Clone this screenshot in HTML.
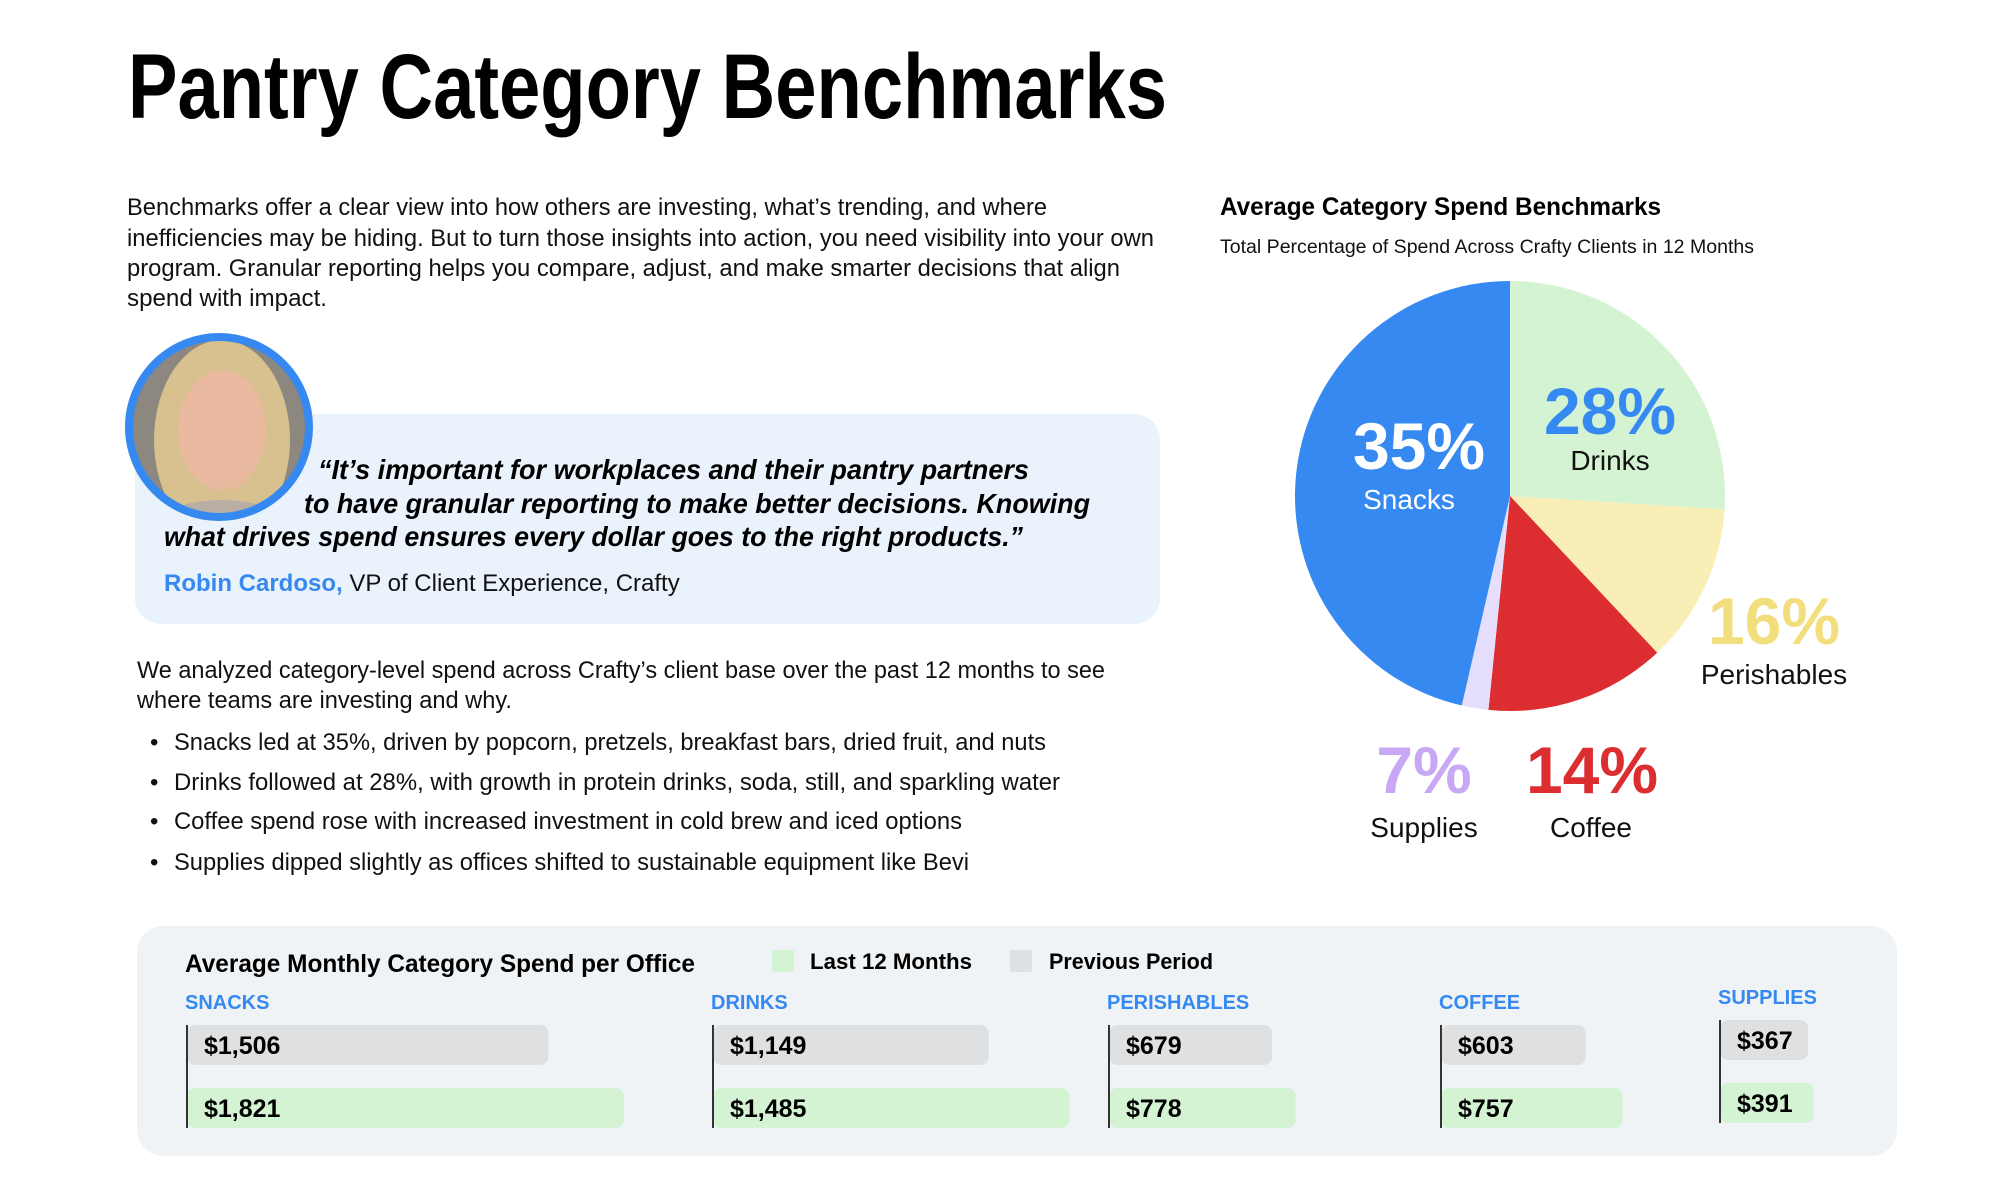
<!DOCTYPE html>
<html><head><meta charset="utf-8"><style>
html,body{margin:0;padding:0;background:#fff;}
svg{display:block;font-family:"Liberation Sans",sans-serif;}
</style></head><body>
<svg id="page" width="2000" height="1200" viewBox="0 0 2000 1200">
<text x="128" y="118" font-size="92" font-weight="700" fill="#000" textLength="1039" lengthAdjust="spacingAndGlyphs">Pantry Category Benchmarks</text>
<g font-size="24" fill="#111">
<text x="127" y="215" textLength="920" lengthAdjust="spacingAndGlyphs">Benchmarks offer a clear view into how others are investing, what’s trending, and where</text>
<text x="127" y="246" textLength="1027" lengthAdjust="spacingAndGlyphs">inefficiencies may be hiding. But to turn those insights into action, you need visibility into your own</text>
<text x="127" y="276" textLength="993" lengthAdjust="spacingAndGlyphs">program. Granular reporting helps you compare, adjust, and make smarter decisions that align</text>
<text x="127" y="306" textLength="200" lengthAdjust="spacingAndGlyphs">spend with impact.</text>
</g>
<rect x="135" y="414" width="1025" height="210" rx="26" fill="#EAF2FB"/>
<g>
<clipPath id="av"><circle cx="219" cy="427" r="88"/></clipPath>
<circle cx="219" cy="427" r="88" fill="#9a948c"/>
<g clip-path="url(#av)">
<rect x="130" y="340" width="180" height="180" fill="#8c877f"/>
<ellipse cx="222" cy="440" rx="68" ry="100" fill="#d9c08f"/>
<ellipse cx="222" cy="430" rx="44" ry="60" fill="#e9b9a0"/>
<ellipse cx="222" cy="530" rx="70" ry="30" fill="#b8aea4"/>
</g>
<circle cx="219" cy="427" r="90" fill="none" stroke="#3589F0" stroke-width="8"/>
</g>
<g font-size="28" font-weight="700" font-style="italic" fill="#000">
<text x="318" y="479" textLength="711" lengthAdjust="spacingAndGlyphs">“It’s important for workplaces and their pantry partners</text>
<text x="304" y="513" textLength="786" lengthAdjust="spacingAndGlyphs">to have granular reporting to make better decisions. Knowing</text>
<text x="164" y="546" textLength="859" lengthAdjust="spacingAndGlyphs">what drives spend ensures every dollar goes to the right products.”</text>
</g>
<text x="164" y="591" font-size="24" fill="#111"><tspan font-weight="700" fill="#3589F0">Robin Cardoso,</tspan> VP of Client Experience, Crafty</text>
<g font-size="24" fill="#111">
<text x="137" y="678" textLength="968" lengthAdjust="spacingAndGlyphs">We analyzed category-level spend across Crafty’s client base over the past 12 months to see</text>
<text x="137" y="708" textLength="375" lengthAdjust="spacingAndGlyphs">where teams are investing and why.</text>
</g>
<g font-size="24" fill="#111">
<text x="150" y="750">•</text><text x="174" y="750" textLength="872" lengthAdjust="spacingAndGlyphs">Snacks led at 35%, driven by popcorn, pretzels, breakfast bars, dried fruit, and nuts</text>
<text x="150" y="790">•</text><text x="174" y="790" textLength="886" lengthAdjust="spacingAndGlyphs">Drinks followed at 28%, with growth in protein drinks, soda, still, and sparkling water</text>
<text x="150" y="829">•</text><text x="174" y="829" textLength="788" lengthAdjust="spacingAndGlyphs">Coffee spend rose with increased investment in cold brew and iced options</text>
<text x="150" y="870">•</text><text x="174" y="870" textLength="795" lengthAdjust="spacingAndGlyphs">Supplies dipped slightly as offices shifted to sustainable equipment like Bevi</text>
</g>
<text x="1220" y="215" font-size="25" font-weight="700" fill="#000" textLength="441" lengthAdjust="spacingAndGlyphs">Average Category Spend Benchmarks</text>
<text x="1220" y="253" font-size="19" fill="#111" textLength="534" lengthAdjust="spacingAndGlyphs">Total Percentage of Spend Across Crafty Clients in 12 Months</text>
<g id="pie"></g>
<g id="pielabels"></g>
<rect x="137" y="926" width="1760" height="230" rx="26" fill="#F0F3F6"/>
<text x="185" y="972" font-size="25" font-weight="700" fill="#000" textLength="510" lengthAdjust="spacingAndGlyphs">Average Monthly Category Spend per Office</text>
<rect x="772" y="950" width="22" height="22" rx="2" fill="#D4F3D2"/>
<text x="810" y="969" font-size="22" font-weight="700" fill="#000" textLength="162" lengthAdjust="spacingAndGlyphs">Last 12 Months</text>
<rect x="1010" y="950" width="22" height="22" rx="2" fill="#DFE0E2"/>
<text x="1049" y="969" font-size="22" font-weight="700" fill="#000" textLength="164" lengthAdjust="spacingAndGlyphs">Previous Period</text>
<g id="bars"></g>
</svg>
<script>
// Pie data (clockwise from 12 o'clock), shares as drawn
const pieCategories = ["Drinks","Perishables","Coffee","Supplies","Snacks"];
const pieShares = [26, 12, 13.6, 2, 46.4];
const piePrinted = ["28%","16%","14%","7%","35%"];
// Bar data
const barCategories = ["SNACKS","DRINKS","PERISHABLES","COFFEE","SUPPLIES"];
const prevValues = [1506, 1149, 679, 603, 367];
const lastValues = [1821, 1485, 778, 757, 391];
const prevLabels = ["$1,506","$1,149","$679","$603","$367"];
const lastLabels = ["$1,821","$1,485","$778","$757","$391"];

const NS = "http://www.w3.org/2000/svg";
function mk(tag, attrs, parent){const e=document.createElementNS(NS,tag);for(const k in attrs)e.setAttribute(k,attrs[k]);parent.appendChild(e);return e;}

// Pie
const cx=1510, cy=496, R=215;
const pieColors=["#D4F3D2","#F8EEB6","#DC2E31","#E6DEFD","#3589F0"];
const total=pieShares.reduce((a,b)=>a+b,0);
function ang(v){return v/total*2*Math.PI;}
const pie=document.getElementById('pie');
let acc=0;
pieShares.forEach((v,i)=>{
  const a0=ang(acc), a1=ang(acc+v); acc+=v;
  const x0=cx+R*Math.sin(a0), y0=cy-R*Math.cos(a0), x1=cx+R*Math.sin(a1), y1=cy-R*Math.cos(a1);
  const large=(a1-a0)>Math.PI?1:0;
  const p=mk('path',{d:`M${cx},${cy} L${x0},${y0} A${R},${R} 0 ${large} 1 ${x1},${y1} Z`,fill:pieColors[i]},pie);
  
  
});
const labelPos=[[1610,410,1610,460],[1774,620,1774,674],[1592,769,1591,827],[1424,769,1424,827],[1419,445,1409,499]];
const pctColors=["#3589F0","#F3DE7E","#DC2E31","#C8A8F5","#FFFFFF"];
const nameColors=["#111","#111","#111","#111","#FFFFFF"];
const pl=document.getElementById('pielabels');
pieCategories.forEach((c,i)=>{
  const p=labelPos[i];
  const t=mk('text',{x:p[0],y:p[1]+24,'text-anchor':'middle','font-size':66,'font-weight':700,fill:pctColors[i]},pl);
  t.textContent=piePrinted[i];
  
  
  const n=mk('text',{x:p[2],y:p[3]+10,'text-anchor':'middle','font-size':28,fill:nameColors[i]},pl);
  n.textContent=c;
  
  
});

// Bars
const groupX=[187,713,1109,1441,1720];
const groupDy=[0,0,0,0,-5];
function xw(v){return v*0.24;}
const bars=document.getElementById('bars');
barCategories.forEach((c,i)=>{
  const gx=groupX[i], dy=groupDy[i];
  const g=mk('g',{},bars);
  
  
  const lab=mk('text',{x:gx-2,y:1009+dy,'font-size':20,'font-weight':700,fill:'#3589F0'},g);
  lab.textContent=c;
  
  
  const b1=mk('rect',{x:gx,y:1025+dy,width:xw(prevValues[i]),height:40,rx:8,fill:'#DFE0E2'},g);
  
  
  const b2=mk('rect',{x:gx,y:1088+dy,width:xw(lastValues[i]),height:40,rx:8,fill:'#D4F3D2'},g);
  
  
  const ax=mk('line',{x1:gx,y1:1025+dy,x2:gx,y2:1128+dy,stroke:'#333','stroke-width':2},g);
  
  
  const t1=mk('text',{x:gx+17,y:1054+dy,'font-size':25,'font-weight':700,fill:'#000'},g);
  t1.textContent=prevLabels[i];
  
  
  const t2=mk('text',{x:gx+17,y:1117+dy,'font-size':25,'font-weight':700,fill:'#000'},g);
  t2.textContent=lastLabels[i];
  
  
});
</script>
</body></html>
